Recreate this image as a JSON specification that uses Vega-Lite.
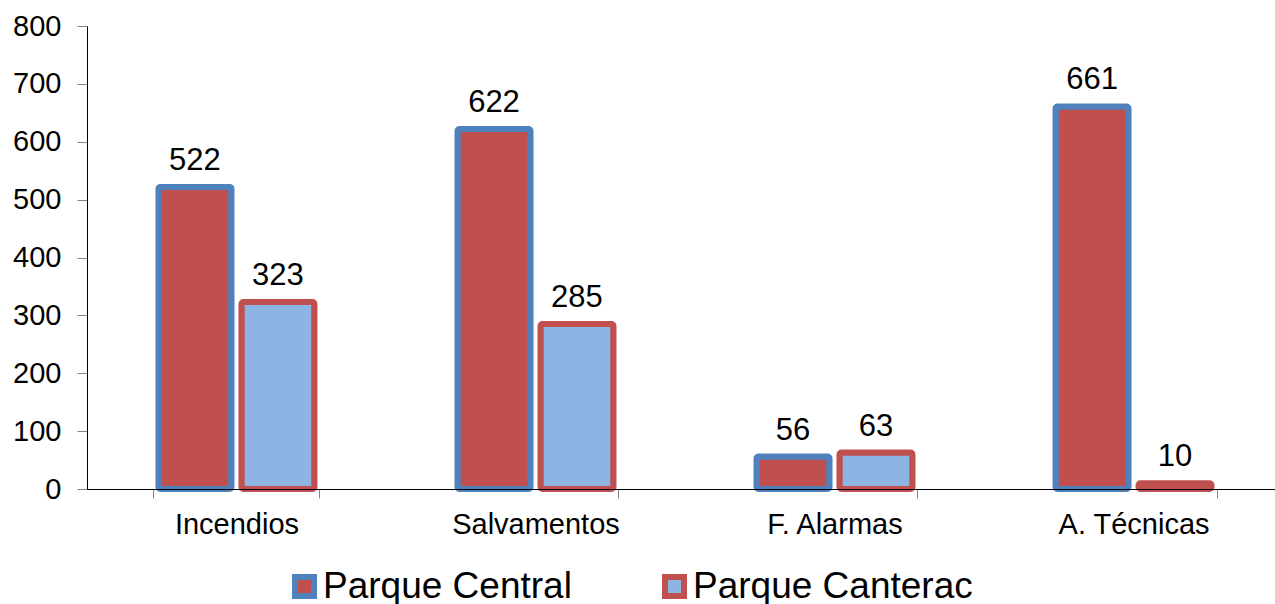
{
  "$schema": "https://vega.github.io/schema/vega-lite/v6.json",
  "autosize": "none",
  "width": 1188,
  "height": 463,
  "padding": {"left": 87, "top": 26, "right": 0, "bottom": 115},
  "background": "white",
  "config": {
    "view": {"stroke": null},
    "font": "Liberation Sans"
  },
  "data": {
    "values": [
      {"categoria": "Incendios", "parque": "Parque Central", "valor": 522},
      {"categoria": "Incendios", "parque": "Parque Canterac", "valor": 323},
      {"categoria": "Salvamentos", "parque": "Parque Central", "valor": 622},
      {"categoria": "Salvamentos", "parque": "Parque Canterac", "valor": 285},
      {"categoria": "F. Alarmas", "parque": "Parque Central", "valor": 56},
      {"categoria": "F. Alarmas", "parque": "Parque Canterac", "valor": 63},
      {"categoria": "A. Técnicas", "parque": "Parque Central", "valor": 661},
      {"categoria": "A. Técnicas", "parque": "Parque Canterac", "valor": 10}
    ]
  },
  "encoding": {
    "x": {
      "field": "categoria",
      "type": "nominal",
      "sort": ["Incendios", "Salvamentos", "F. Alarmas", "A. Técnicas"],
      "scale": {"paddingInner": 0.445, "paddingOuter": 0.209, "align": 0.532},
      "axis": {
        "title": null,
        "labelAngle": 0,
        "tickBand": "extent",
        "tickSize": 9,
        "tickColor": "#868686",
        "domainColor": "#000000",
        "labelFontSize": 29,
        "labelColor": "#000000",
        "labelPadding": 12,
        "zindex": 1
      }
    },
    "xOffset": {
      "field": "parque",
      "type": "nominal",
      "sort": ["Parque Central", "Parque Canterac"],
      "scale": {"paddingInner": 0.12, "paddingOuter": 0.06}
    },
    "y": {
      "field": "valor",
      "type": "quantitative",
      "scale": {"domain": [0, 800], "nice": false},
      "axis": {
        "title": null,
        "values": [0, 100, 200, 300, 400, 500, 600, 700, 800],
        "grid": false,
        "tickSize": 10,
        "tickColor": "#868686",
        "domainColor": "#000000",
        "labelFontSize": 29,
        "labelColor": "#000000",
        "labelPadding": 16
      }
    }
  },
  "layer": [
    {
      "mark": {"type": "bar", "strokeWidth": 6, "cornerRadius": 2, "strokeJoin": "round"},
      "encoding": {
        "fill": {
          "field": "parque",
          "type": "nominal",
          "scale": {"domain": ["Parque Central", "Parque Canterac"], "range": ["#C0504D", "#8EB4E3"]},
          "legend": {
            "orient": "none",
            "legendX": 199,
            "legendY": 542,
            "direction": "horizontal",
            "title": null,
            "symbolType": "square",
            "symbolSize": 361,
            "symbolStrokeWidth": 6,
            "labelFontSize": 37,
            "labelColor": "#000000",
            "labelOffset": 0,
            "columnPadding": 81,
            "labelLimit": 400
          }
        },
        "stroke": {
          "field": "parque",
          "type": "nominal",
          "scale": {"domain": ["Parque Central", "Parque Canterac"], "range": ["#4F81BD", "#C0504D"]},
          "legend": {
            "orient": "none",
            "legendX": 199,
            "legendY": 542,
            "direction": "horizontal",
            "title": null,
            "symbolType": "square",
            "symbolSize": 361,
            "symbolStrokeWidth": 6,
            "labelFontSize": 37,
            "labelColor": "#000000",
            "labelOffset": 0,
            "columnPadding": 81,
            "labelLimit": 400
          }
        }
      }
    },
    {
      "mark": {"type": "text", "baseline": "alphabetic", "dy": -17, "fontSize": 31, "color": "#000000"},
      "encoding": {
        "text": {"field": "valor", "type": "quantitative"}
      }
    }
  ]
}
